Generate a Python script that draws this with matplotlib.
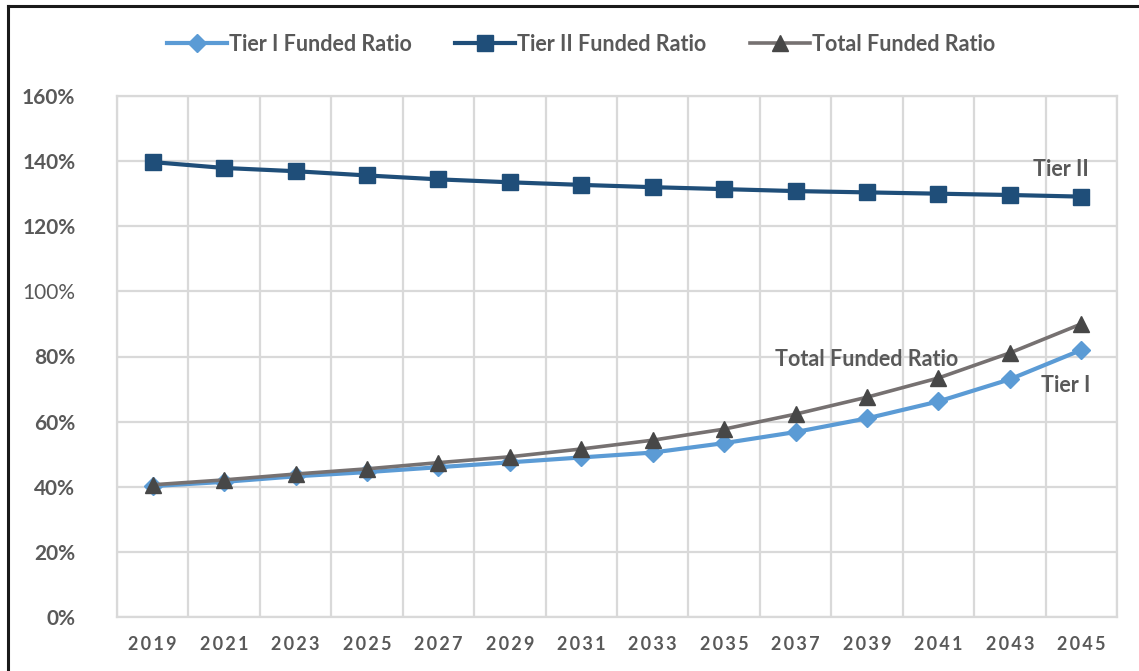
import numpy as np
import matplotlib.pyplot as plt
from matplotlib.lines import Line2D

# Data
years = [2019, 2021, 2023, 2025, 2027, 2029, 2031, 2033, 2035, 2037, 2039, 2041, 2043, 2045]
tier1 = [40.2, 41.5, 43.2, 44.5, 46.0, 47.5, 49.0, 50.5, 53.4, 56.8, 61.0, 66.2, 73.0, 82.0]
tier2 = [139.7, 137.9, 136.9, 135.6, 134.4, 133.5, 132.7, 132.0, 131.4, 130.8, 130.4, 130.0, 129.6, 129.1]
total = [40.6, 42.1, 43.9, 45.5, 47.4, 49.2, 51.6, 54.3, 57.7, 62.3, 67.5, 73.4, 81.1, 90.0]
ytick_vals = [0, 20, 40, 60, 80, 100, 120, 140, 160]

c_t1 = '#5B9BD5'
c_t2 = '#1F4E79'
c_tot = '#767171'
c_tot_mk = '#474747'
c_txt = '#595959'
c_grid = '#D9D9D9'

plt.rcParams['font.family'] = ['Lato', 'DejaVu Sans']

fig = plt.figure(figsize=(11.39, 6.71), dpi=100)
ax = fig.add_axes([117/1139, 1-617/671, 1000/1139, 521/671])

x = np.arange(len(years))
ax.plot(x, np.array(tier1)/100, '-D', color=c_t1, lw=3, ms=9.5, label='Tier I Funded Ratio', zorder=4)
ax.plot(x, np.array(tier2)/100, '-s', color=c_t2, lw=3, ms=11, label='Tier II Funded Ratio', zorder=4)
ax.plot(x, np.array(total)/100, '-^', color=c_tot, lw=2.6, ms=11, mfc=c_tot_mk, mec=c_tot_mk,
        label='Total Funded Ratio', zorder=5)

#%% Axes
ax.set_xlim(-0.5, len(years)-0.5)
ax.set_ylim(0, 1.6)
ax.set_xticks(x)
ax.set_xticklabels(['\u2009'.join(str(y)) for y in years], fontsize=13, fontweight='bold', color=c_txt)
ax.set_xticks(np.arange(len(years)+1)-0.5, minor=True)
ax.set_yticks(np.array(ytick_vals)/100)
ax.set_yticklabels(['%d%%' % v for v in ytick_vals], fontsize=15, fontweight='bold', color=c_txt)
for lab in ax.get_yticklabels():
    if lab.get_text() == '100%':
        lab.set_fontweight('normal')
ax.tick_params(axis='x', which='both', length=0, pad=14)
ax.tick_params(axis='y', length=0, pad=30)
ax.grid(axis='y', which='major', color=c_grid, lw=1.6)
ax.grid(axis='x', which='minor', color=c_grid, lw=1.6)
ax.set_axisbelow(True)
for s in ax.spines.values():
    s.set_color(c_grid)
    s.set_linewidth(1.6)

# Series labels
ax.text(12.72, 1.373, 'Tier II', fontsize=15.5, fontweight='bold', color=c_txt, ha='center', va='center')
ax.text(10.0, 0.792, 'Total Funded Ratio', fontsize=15.5, fontweight='bold', color=c_txt, ha='center', va='center')
ax.text(12.78, 0.712, 'Tier I', fontsize=15.5, fontweight='bold', color=c_txt, ha='center', va='center')

fig.legend(loc='center', bbox_to_anchor=(0.51, 0.934), ncol=3, frameon=False,
           prop={'weight': 'bold', 'size': 15.5}, labelcolor=c_txt, handlelength=2.8,
           columnspacing=2.0, handletextpad=0.1)

# Outer frame (left and top edges visible)
fig.add_artist(Line2D([8/1139, 8/1139], [0, 1-6/671], color='#1a1a1a', lw=2.2, transform=fig.transFigure))
fig.add_artist(Line2D([8/1139, 1], [1-6/671, 1-6/671], color='#1a1a1a', lw=2.2, transform=fig.transFigure))

fig.savefig('out.png', dpi=100)
